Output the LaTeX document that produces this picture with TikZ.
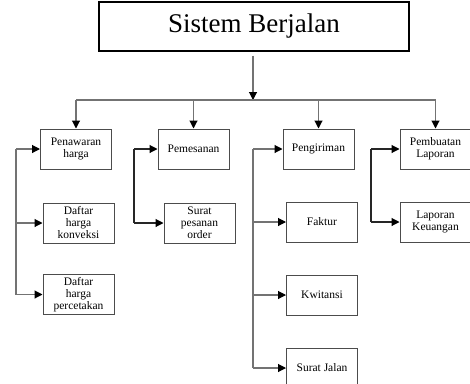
\documentclass[tikz,border=0pt]{standalone}
\usepackage{fontspec}
\setmainfont{Liberation Serif}
\usetikzlibrary{arrows.meta}
\begin{document}
\begin{tikzpicture}[x=1pt,y=-1pt,
  conn/.style={draw=black!55,line width=1.1pt,-{Triangle[length=8pt,width=8pt,fill=black,color=black]}},
  link/.style={draw=black!55,line width=1.1pt},
  box/.style={draw=black!70,line width=1pt,minimum width=71pt,minimum height=40pt,
    inner sep=1pt,align=center,font=\fontsize{11.5}{12}\selectfont},
  topbox/.style={draw=black,line width=1.1pt,minimum width=310pt,minimum height=49pt,
    font=\fontsize{27}{30}\selectfont}]
\useasboundingbox (0,0) rectangle (470,383);

% root
\node[topbox] (root) at (254,26.5) {Sistem Berjalan};

% first level
\node[box] (pen)  at (76,149)    {Penawaran\\harga};
\node[box] (pem)  at (193.5,149) {Pemesanan};
\node[box] (peng) at (318.5,149) {Pengiriman};
\node[box] (pl)   at (435.5,149) {Pembuatan\\Laporan};

% second level
\node[box] (dk) at (78.5,223)   {Daftar\\harga\\konveksi};
\node[box] (dp) at (78.5,294.5) {Daftar\\harga\\percetakan};
\node[box] (sp) at (199.5,223)  {Surat\\pesanan\\order};
\node[box] (fak) at (322,222)   {Faktur};
\node[box] (kwi) at (322,295)   {Kwitansi};
\node[box] (sj)  at (322,368)   {Surat Jalan};
\node[box] (lk)  at (435.5,222) {Laporan\\Keuangan};

% distribution bus
\coordinate (bus) at (253,100);
\coordinate (busL) at (76,100);
\coordinate (busR) at (435.5,100);
\draw[conn] ([yshift=-4pt]root.south -| bus) -- (bus);
\draw[link] (busL) -- (busR);
\draw[conn] (busL) -- (pen.north);
\draw[conn] (pem.north |- bus) -- (pem.north);
\draw[conn] (peng.north |- bus) -- (peng.north);
\draw[conn] (busR) -- (pl.north);

% side brackets
\coordinate (bA) at (16,149);
\coordinate (bB) at (134,149);
\coordinate (bC) at (253,149);
\coordinate (bD) at (371,149);

\draw[conn] (bA) -- (pen.west);
\draw[link] (bA) -- (bA |- dp.west);
\draw[conn] (bA |- dk.west) -- (dk.west);
\draw[conn] (bA |- dp.west) -- (dp.west);

\draw[conn,draw=black!85] (bB) -- (pem.west);
\draw[link,draw=black!85] (bB) -- (bB |- sp.west);
\draw[conn,draw=black!85] (bB |- sp.west) -- (sp.west);

\draw[conn] (bC) -- (peng.west);
\draw[link] (bC) -- (bC |- sj.west);
\draw[conn] (bC |- fak.west) -- (fak.west);
\draw[conn] (bC |- kwi.west) -- (kwi.west);
\draw[conn] (bC |- sj.west) -- (sj.west);

\draw[conn,draw=black!85] (bD) -- (pl.west);
\draw[link,draw=black!85] (bD) -- (bD |- lk.west);
\draw[conn,draw=black!85] (bD |- lk.west) -- (lk.west);
\end{tikzpicture}
\end{document}
